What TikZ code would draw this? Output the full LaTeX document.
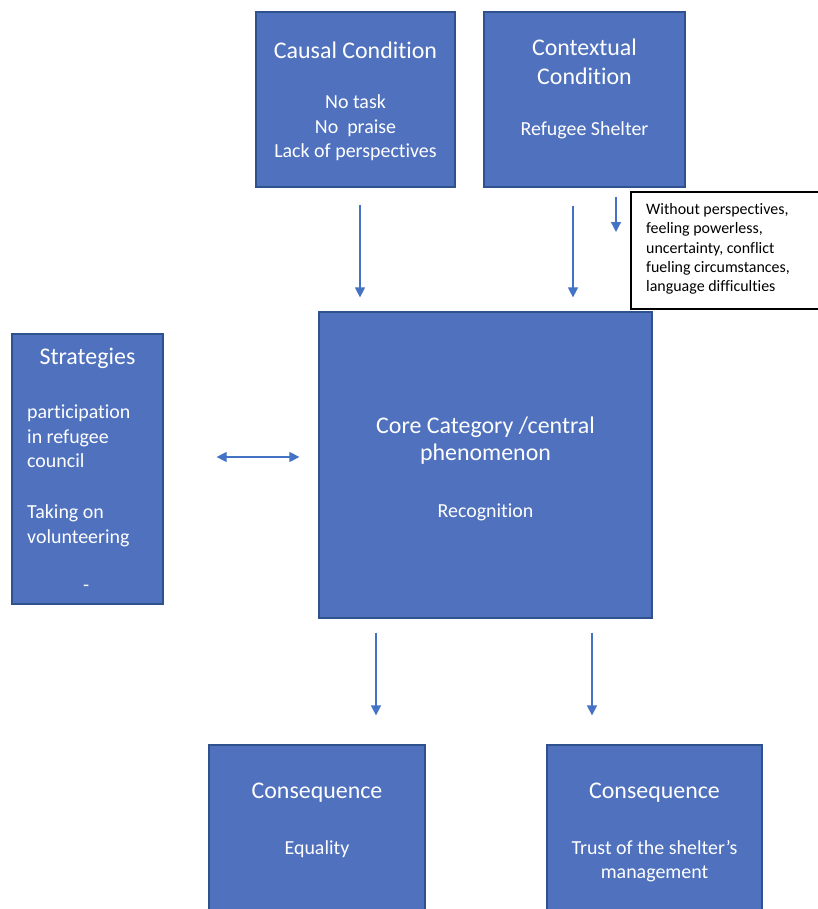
\documentclass[tikz,border=0pt]{standalone}
\usepackage{fontspec}
\setmainfont{Carlito}[Ligatures=NoCommon]
\usetikzlibrary{arrows.meta}

\definecolor{boxblue}{HTML}{4F71BE}
\definecolor{boxedge}{HTML}{2F528F}
\definecolor{arrowblue}{HTML}{4472C4}
\newcommand{\headfont}{\fontsize{24}{29}\selectfont}
\newcommand{\bodyfont}{\fontsize{20}{24.5}\selectfont}
\newcommand{\notefont}{\fontsize{16}{19.5}\selectfont}

\tikzset{
  catbox/.style={rectangle, draw=boxedge, fill=boxblue, line width=1.2bp, inner sep=0pt},
  cattext/.style={text=white, align=center, inner sep=0pt, font=\bodyfont},
  notebox/.style={rectangle, draw=black, fill=white, line width=1.3bp, inner sep=0pt},
  arr/.style={draw=arrowblue, line width=1.2bp, -{Triangle[width=10bp,length=10bp]}},
  dblarr/.style={draw=arrowblue, line width=1.2bp, {Triangle[width=10bp,length=10bp]}-{Triangle[width=10bp,length=10bp]}},
}

\begin{document}
\begin{tikzpicture}[x=1bp, y=-1bp]
\useasboundingbox (0,0) rectangle (818,909);
\clip (0,0) rectangle (818,909);
% the seven boxes
\node[catbox, minimum width=199bp, minimum height=175bp] (causal) at (355.5,99.5) {};
\node[catbox, minimum width=201bp, minimum height=175bp] (context) at (584.5,99.5) {};
\node[notebox, minimum width=199bp, minimum height=117bp] (note) at (730.5,250.5) {};
\node[catbox, minimum width=333bp, minimum height=306bp] (core) at (485.5,465) {};
\node[catbox, minimum width=151bp, minimum height=270bp] (strat) at (87.5,469) {};
\node[catbox, minimum width=216bp, minimum height=174bp] (consA) at (317,832) {};
\node[catbox, minimum width=215bp, minimum height=174bp] (consB) at (654.5,832) {};

% texts
\node[cattext, anchor=north] (causaltxt) at (355.5,42) {{\headfont Causal Condition}\\[25.5bp]No task\\No\ \ praise\\Lack of perspectives};
\node[cattext, anchor=north] (contexttxt) at (584.5,39) {{\headfont Contextual}\\[4.5bp]{\headfont Condition}\\[26.5bp]Refugee Shelter};
\node[anchor=north west, align=left, inner sep=0pt, font=\notefont] (notetxt) at (646,203) {Without perspectives,\\feeling powerless,\\uncertainty, conflict\\fueling circumstances,\\language difficulties};
\node[cattext, anchor=north] (coretxt) at (485.5,417) {{\headfont Core Category /central}\\[2.5bp]{\headfont phenomenon}\\[32bp]Recognition};
\node[cattext, anchor=north] (strathead) at (87.5,348) {\headfont Strategies};
\node[cattext, anchor=north west, align=left] (strattxt) at (27,405) {participation\\in refugee\\council\\[26.5bp]Taking on\\volunteering\\[24.5bp]\hspace*{56bp}-};
\node[cattext, anchor=north] (consAtxt) at (317,783) {{\headfont Consequence}\\[31bp]Equality};
\node[cattext, anchor=north] (consBtxt) at (654.5,783) {{\headfont Consequence}\\[31bp]Trust of the shelter’s\\management};

% connectors
\coordinate (colA) at (360,0);
\coordinate (colB) at (573,0);
\coordinate (colC) at (376,0);
\coordinate (colD) at (592,0);
\coordinate (rowS) at (0,457);
\coordinate (notetip) at (616,232);
\draw[arr, shorten <=17bp, shorten >=14bp] (causal.south -| colA) -- (core.north -| colA);
\draw[arr, shorten <=18bp, shorten >=14bp] (context.south -| colB) -- (core.north -| colB);
\draw[arr, shorten <=9bp] (context.south -| notetip) -- (notetip);
\draw[dblarr, shorten <=53bp, shorten >=19bp] (strat.east |- rowS) -- (core.west |- rowS);
\draw[arr, shorten <=14bp, shorten >=29bp] (core.south -| colC) -- (consA.north -| colC);
\draw[arr, shorten <=14bp, shorten >=29bp] (core.south -| colD) -- (consB.north -| colD);
\end{tikzpicture}
\end{document}
